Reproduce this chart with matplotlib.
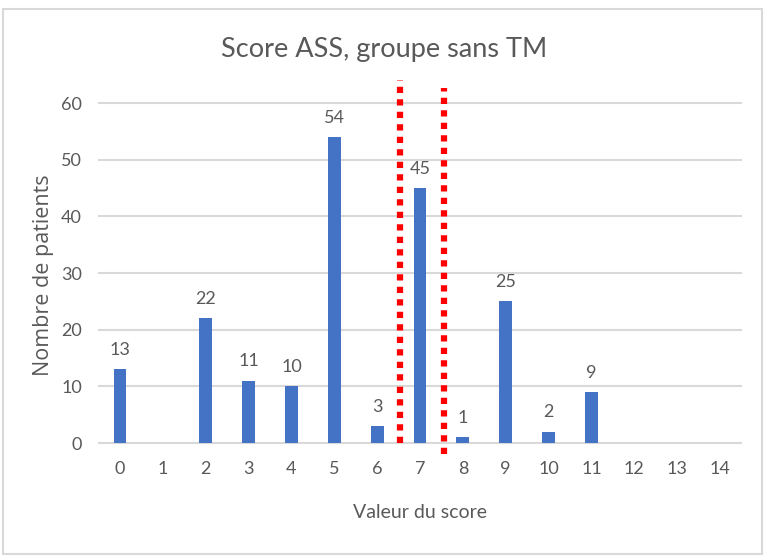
import matplotlib
matplotlib.use("Agg")
import matplotlib.pyplot as plt
from matplotlib.patches import Rectangle

categories = [str(i) for i in range(15)]
values = [13, 0, 22, 11, 10, 54, 3, 45, 1, 25, 2, 9, 0, 0, 0]
y_ticks = [0, 10, 20, 30, 40, 50, 60]
threshold_x = [6.53, 7.57]
threshold_top = [64.0, 62.6]
threshold_bottom = [0.0, -2.0]

title = "Score ASS, groupe sans TM"
xlabel = "Valeur du score"
ylabel = "Nombre de patients"

plt.rcParams['font.family'] = ['Lato', 'DejaVu Sans']
txt = '#595959'
grid = '#d9d9d9'
bar_c = '#4472C4'

fig = plt.figure(figsize=(7.64, 5.56), dpi=100)
fig.patches.append(Rectangle((3/764, 2/556), 759/764, 545/556, transform=fig.transFigure,
                             fill=False, edgecolor=grid, linewidth=1.5))
ax = fig.add_axes([98.6/764, 1-443/556, (741.4-98.6)/764, 340/556])

x = list(range(len(categories)))
ax.bar(x, values, width=0.3, color=bar_c, zorder=3)
for xi, v in zip(x, values):
    if v:
        ax.text(xi, v + 2.0, str(v), ha='center', va='bottom', fontsize=13, color=txt)

ax.set_xlim(-0.5, len(categories) - 0.5)
ax.set_ylim(0, 60)
ax.set_yticks(y_ticks)
ax.set_xticks(x)
ax.set_xticklabels(categories)
ax.tick_params(axis='both', length=0, colors=txt, labelsize=13)
ax.tick_params(axis='x', pad=13)
ax.tick_params(axis='y', pad=12)
for yt in y_ticks:
    ax.axhline(yt, color=grid, linewidth=1.5, zorder=1, clip_on=False)
for s in ax.spines.values():
    s.set_visible(False)

for xt, top, bot in zip(threshold_x, threshold_top, threshold_bottom):
    ax.plot([xt, xt], [bot, top], color='#ff0000', linewidth=4.5, dashes=(1.0, 1.0),
            solid_capstyle='butt', dash_capstyle='butt', clip_on=False, zorder=4)

fig.text(384/764, 1-50/556, title, ha='center', va='center', fontsize=19.5, color=txt)
fig.text(420/764, 1-512/556, xlabel, ha='center', va='center', fontsize=14, color=txt)
fig.text(44/764, 1-275/556, ylabel, ha='center', va='center', fontsize=15.5, color=txt,
         rotation=90, family=['Open Sans', 'DejaVu Sans'])

fig.savefig('out.png', dpi=100)
